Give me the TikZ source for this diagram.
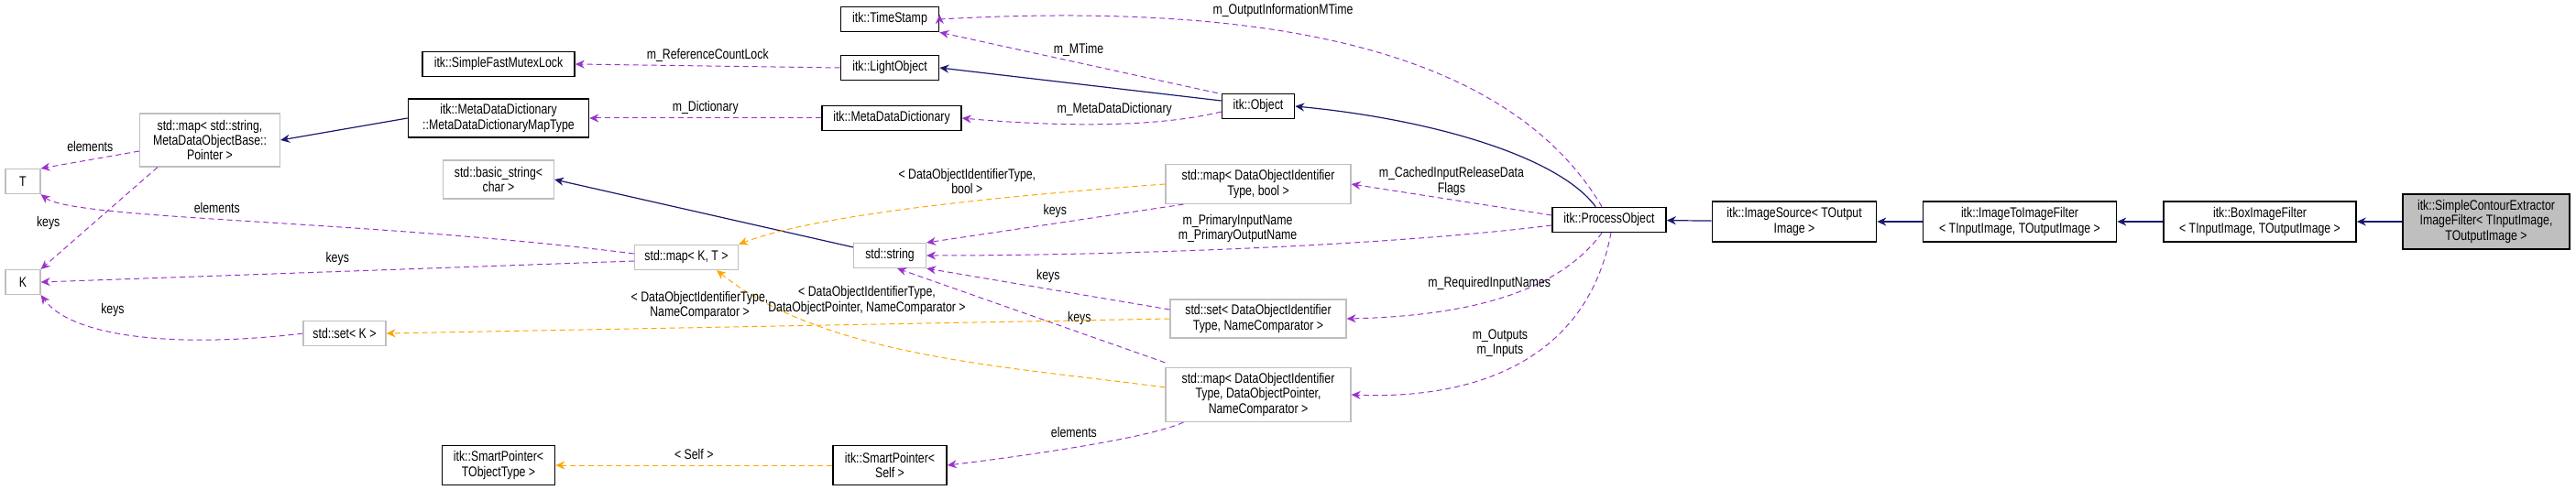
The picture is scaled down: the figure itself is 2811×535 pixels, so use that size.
\documentclass[tikz,border=0pt]{standalone}
\usepackage{fontspec}
\setmainfont{Liberation Sans}[FakeStretch=0.8]
\usetikzlibrary{arrows.meta}
\definecolor{inhcol}{HTML}{191970}
\definecolor{usecol}{HTML}{9A32CD}
\definecolor{tplcol}{HTML}{FFA500}
\definecolor{boxgray}{HTML}{BFBFBF}
\tikzset{
  cls/.style={draw=black,line width=0.8pt,fill=white,align=center,inner sep=1pt,font=\fontsize{7.7}{8.2}\selectfont},
  ext/.style={cls,draw=boxgray,line width=0.6pt},
  cur/.style={cls,fill=boxgray},
  inh/.style={draw=inhcol,line width=0.6pt,-{Stealth[length=5pt,width=4.5pt]}},
  use/.style={draw=usecol,line width=0.5pt,dash pattern=on 3pt off 2pt,-{Stealth[length=5pt,width=4.5pt]}},
  tpl/.style={draw=tplcol,line width=0.5pt,dash pattern=on 3pt off 2pt,-{Stealth[length=5pt,width=4.5pt]}},
  lbl/.style={font=\fontsize{7.7}{8.2}\selectfont,align=center,inner sep=0pt}
}
\begin{document}
\begin{tikzpicture}[x=0.5pt,y=-0.5pt]
  \useasboundingbox (0,0) rectangle (2811,535);
  % classes
  \node[cls,minimum width=53.5pt,minimum height=13.5pt] (stamp) at (971,21) {itk::TimeStamp};
  \node[cls,minimum width=53.5pt,minimum height=13.5pt] (light) at (971,74) {itk::LightObject};
  \node[cls,minimum width=83pt,minimum height=13.5pt] (mutex) at (544,70) {itk::SimpleFastMutexLock};
  \node[cls,minimum width=98.5pt,minimum height=21pt] (maptype) at (544,129) {itk::MetaDataDictionary\\::MetaDataDictionaryMapType};
  \node[cls,minimum width=76pt,minimum height=13.5pt] (dict) at (973,129) {itk::MetaDataDictionary};
  \node[cls,minimum width=39.5pt,minimum height=13.5pt] (object) at (1373,116) {itk::Object};
  \node[cls,minimum width=62pt,minimum height=13.5pt] (process) at (1756,240) {itk::ProcessObject};
  \node[cls,minimum width=89.5pt,minimum height=22pt] (source) at (1958,242) {itk::ImageSource< TOutput\\Image >};
  \node[cls,minimum width=105.5pt,minimum height=22pt] (i2i) at (2204,242) {itk::ImageToImageFilter\\< TInputImage, TOutputImage >};
  \node[cls,minimum width=105pt,minimum height=22pt] (box) at (2466,242) {itk::BoxImageFilter\\< TInputImage, TOutputImage >};
  \node[cur,minimum width=91pt,minimum height=30pt] (contour) at (2713,242) {itk::SimpleContourExtractor\\ImageFilter< TInputImage,\\ TOutputImage >};
  \node[cls,minimum width=61.5pt,minimum height=21.5pt] (ptrobj) at (544,508) {itk::SmartPointer<\\ TObjectType >};
  \node[cls,minimum width=62pt,minimum height=21.5pt] (ptrself) at (971,508) {itk::SmartPointer<\\ Self >};
  % template and std types
  \node[ext,minimum width=76.5pt,minimum height=29pt] (mapstr) at (229,153) {std::map< std::string,\\ MetaDataObjectBase::\\ Pointer >};
  \node[ext,minimum width=19pt,minimum height=13.5pt] (tT) at (25,198) {T};
  \node[ext,minimum width=19pt,minimum height=13.5pt] (tK) at (25,308) {K};
  \node[ext,minimum width=60.5pt,minimum height=21pt] (bstring) at (544,196) {std::basic\_string<\\ char >};
  \node[ext,minimum width=56.5pt,minimum height=13.5pt] (mapkt) at (749,281) {std::map< K, T >};
  \node[ext,minimum width=45pt,minimum height=13.5pt] (setk) at (376,364) {std::set< K >};
  \node[ext,minimum width=39.5pt,minimum height=13.5pt] (string) at (971,279) {std::string};
  \node[ext,minimum width=101pt,minimum height=21.5pt] (mapbool) at (1373,201) {std::map< DataObjectIdentifier\\Type, bool >};
  \node[ext,minimum width=96pt,minimum height=21pt] (setdoi) at (1373,348) {std::set< DataObjectIdentifier\\Type, NameComparator >};
  \node[ext,minimum width=101pt,minimum height=29.5pt] (mapdoi) at (1373,431) {std::map< DataObjectIdentifier\\Type, DataObjectPointer,\\ NameComparator >};
  % inheritance
  \draw[inh] (contour) -- (box);
  \draw[inh] (box) -- (i2i);
  \draw[inh] (i2i) -- (source);
  \draw[inh] (source) -- (process);
  \draw[inh] (process.north west) ++(48,0) .. controls (1700,170) and (1560,130) .. (object.east);
  \draw[inh] (object.west) ++(0,-6) -- (light.east);
  \draw[inh] (string.north west) ++(0,5) -- (bstring.east);
  \draw[inh] (maptype.west) -- (mapstr.east);
  % members
  \draw[use] (process.north) ++(-8,0) .. controls (1650,60) and (1400,0) .. (stamp.east) ++(0,-5);
  \draw[use] (object.north west) ++(-4,0) -- (stamp.south east) node[lbl,pos=0.5,above=3pt] {m\_MTime};
  \node[lbl] at (1400,12) {m\_OutputInformationMTime};
  \draw[use] (light.west) -- (mutex.east) node[lbl,midway,above=2pt] {m\_ReferenceCountLock};
  \draw[use] (dict.west) -- (maptype.east) node[lbl,midway,above=2pt] {m\_Dictionary};
  \draw[use] (object.west) ++(0,6) .. controls (1260,140) and (1150,138) .. (dict.east) node[lbl,pos=0.45,above=4pt] {m\_MetaDataDictionary};
  \draw[use] (process.west) ++(0,-5) -- (mapbool.east) node[lbl,midway,above=2pt] {m\_CachedInputReleaseData\\Flags};
  \draw[use] (process.west) ++(0,6) .. controls (1500,270) and (1200,279) .. (string.east) node[lbl,pos=0.5,above=3pt] {m\_PrimaryInputName\\m\_PrimaryOutputName};
  \draw[use] (mapbool.south west) ++(20,0) -- (string.north east) node[lbl,pos=0.5,above=3pt] {keys};
  \draw[use] (setdoi.west) ++(0,-10) -- (string.south east) node[lbl,pos=0.5,above=3pt] {keys};
  \draw[use] (mapdoi.north west) ++(0,-5) -- ([xshift=-16pt]string.south east) node[lbl,pos=0.32,above=4pt] {keys};
  \draw[use] (process.south) ++(-8,0) .. controls (1700,320) and (1600,345) .. (setdoi.east) node[lbl,pos=0.55,above=6pt] {m\_RequiredInputNames};
  \draw[use] (process.south) ++(2,0) .. controls (1730,400) and (1600,436) .. (mapdoi.east) node[lbl,pos=0.55,above=8pt] {m\_Outputs\\m\_Inputs};
  \draw[use] (mapdoi.south west) ++(20,0) .. controls (1250,480) and (1100,500) .. (ptrself.east) node[lbl,pos=0.5,above=5pt] {elements};
  \draw[use] (mapstr.west) ++(0,12) -- (tT.north east) node[lbl,pos=0.5,above=4pt] {elements};
  \draw[use] (mapstr.south west) ++(20,0) -- (tK.north east) node[lbl,pos=0.55,left=18pt] {keys};
  \draw[use] (mapkt.west) ++(0,-4) .. controls (400,240) and (80,240) .. (tT.south east) node[lbl,pos=0.55,above=3pt] {elements};
  \draw[use] (mapkt.west) ++(0,4) -- (tK.east) node[lbl,pos=0.5,above=3pt] {keys};
  \draw[use] (setk.west) .. controls (200,380) and (80,370) .. (tK.south east) node[lbl,pos=0.6,above=8pt] {keys};
  % template instances
  \draw[tpl] (mapbool.west) .. controls (1150,210) and (900,230) .. (mapkt.north east) node[lbl,pos=0.45,above=4pt] {< DataObjectIdentifierType,\\bool >};
  \draw[tpl] (mapdoi.west) ++(0,-8) .. controls (1100,400) and (900,390) .. ([xshift=-12pt]mapkt.south east) node[lbl,pos=0.62,above=14pt] {< DataObjectIdentifierType,\\DataObjectPointer, NameComparator >};
  \draw[tpl] (setdoi.west) -- (setk.east) node[lbl,pos=0.6,above=4pt] {< DataObjectIdentifierType,\\NameComparator >};
  \draw[tpl] (ptrself.west) -- (ptrobj.east) node[lbl,midway,above=3pt] {< Self >};
\end{tikzpicture}
\end{document}
